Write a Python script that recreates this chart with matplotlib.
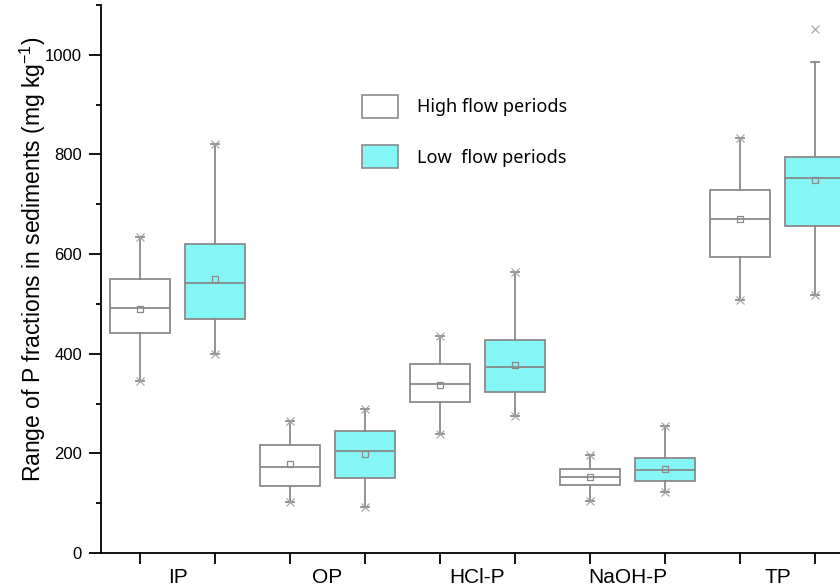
import matplotlib.pyplot as plt
from matplotlib.patches import Patch
from matplotlib.ticker import MultipleLocator

plt.rcParams['font.family'] = ['Liberation Sans', 'DejaVu Sans']

fractions = ['IP', 'OP', 'HCl-P', 'NaOH-P', 'TP']
series = ['High flow periods', 'Low  flow periods']

# box stats, per fraction: high flow, low flow
high_min = [345, 103, 238, 105, 508]
high_q1 = [442, 135, 303, 137, 595]
high_med = [492, 173, 339, 152, 671]
high_mean = [490, 178, 338, 152, 670]
high_q3 = [550, 216, 379, 168, 728]
high_max = [635, 265, 436, 197, 833]

low_min = [399, 93, 274, 123, 517]
low_q1 = [469, 151, 323, 144, 656]
low_med = [542, 205, 374, 167, 752]
low_mean = [550, 199, 378, 169, 749]
low_q3 = [620, 244, 428, 190, 794]
low_whishi = [821, 290, 564, 255, 986]
low_max = [821, 290, 564, 255, 1052]

edge = '#8a8a8a'
cross = '#a0a0a0'
cyan = '#84f6f6'

fig = plt.figure(figsize=(8.4, 5.88), dpi=100)
ax = fig.add_axes([101 / 840, 35 / 588, 1 - 101 / 840, 548 / 588])

stats = []
colors = []
pos = []
for i in range(len(fractions)):
    stats.append(dict(whislo=high_min[i], q1=high_q1[i], med=high_med[i], mean=high_mean[i],
                      q3=high_q3[i], whishi=high_max[i], fliers=[]))
    colors.append('white')
    pos.append(2 * i + 1)
    stats.append(dict(whislo=low_min[i], q1=low_q1[i], med=low_med[i], mean=low_mean[i],
                      q3=low_q3[i], whishi=low_whishi[i], fliers=[]))
    colors.append(cyan)
    pos.append(2 * i + 2)

bp = ax.bxp(stats, positions=pos, widths=0.79, patch_artist=True, showmeans=True,
            capwidths=0.1,
            boxprops=dict(edgecolor=edge, linewidth=1.3),
            medianprops=dict(color=edge, linewidth=1.3),
            whiskerprops=dict(color=edge, linewidth=1.3),
            capprops=dict(color=edge, linewidth=1.3),
            meanprops=dict(marker='s', markerfacecolor='none', markeredgecolor=edge,
                           markersize=5, markeredgewidth=0.9))
for box, c in zip(bp['boxes'], colors):
    box.set_facecolor(c)

# min / max cross markers
ax.plot(pos[0::2], high_min, 'x', color=cross, markersize=6, mew=0.8)
ax.plot(pos[0::2], high_max, 'x', color=cross, markersize=6, mew=0.8)
ax.plot(pos[1::2], low_min, 'x', color=cross, markersize=6, mew=0.8)
ax.plot(pos[1::2], low_max, 'x', color=cross, markersize=6, mew=0.8)

ax.set_xlim(0.48, 1 + 700 / 75)
ax.set_ylim(0, 1100)

ax.spines['top'].set_visible(False)
ax.spines['right'].set_visible(False)
ax.spines['left'].set_linewidth(1.3)
ax.spines['bottom'].set_linewidth(1.3)

ax.set_xticks(pos, [''] * len(pos))
ax.set_xticks([2 * i + 1.5 for i in range(len(fractions))], fractions, minor=True)
ax.tick_params(axis='x', which='major', direction='out', length=8, width=1.3)
ax.tick_params(axis='x', which='minor', length=0, pad=11, labelsize=15)

ax.yaxis.set_major_locator(MultipleLocator(200))
ax.yaxis.set_minor_locator(MultipleLocator(100))
ax.tick_params(axis='y', which='major', direction='out', length=8.6, width=1.3, labelsize=12, pad=5)
ax.tick_params(axis='y', which='minor', direction='out', length=3.6, width=1.3)

ax.set_ylabel('Range of P fractions in sediments (mg kg$^{\\mathregular{-1}}$)', fontsize=16.5)
ax.yaxis.set_label_coords(-0.0717, 0.536)

handles = [Patch(facecolor='white', edgecolor=edge, linewidth=1.2),
           Patch(facecolor=cyan, edgecolor=edge, linewidth=1.2)]
fig.legend(handles, series, loc='upper left', bbox_to_anchor=(362 / 840, 1 - 95 / 588),
           frameon=False, borderpad=0, borderaxespad=0, handlelength=2.0, handleheight=1.59,
           handletextpad=1.05, labelspacing=1.5, prop=dict(family='Noto Sans', size=13))

fig.savefig('out.png', dpi=100)
